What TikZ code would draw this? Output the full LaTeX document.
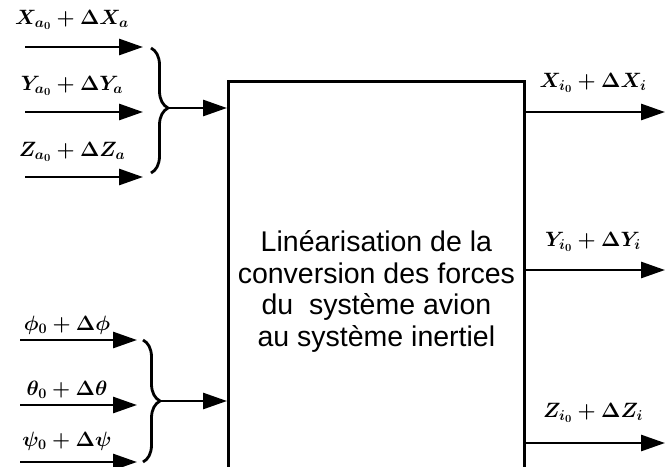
\documentclass[tikz,border=0pt]{standalone}
\usepackage{fontspec}
\setsansfont{Liberation Sans}
\usetikzlibrary{arrows.meta,decorations.pathreplacing}
\begin{document}
\begin{tikzpicture}[x=1pt,y=-1pt,
  line width=2.8pt,
  arr/.style={-{Triangle[length=24pt,width=16pt]}},
  lbl/.style={inner sep=0pt,font=\fontsize{21}{25}\selectfont\boldmath},
  brc/.style={decorate,decoration={brace,amplitude=17pt}},
  blk/.style={draw,line width=2.8pt,minimum width=296pt,minimum height=420pt,anchor=north west,
    align=center,font=\sffamily\fontsize{28.5}{31.5}\selectfont}]
\useasboundingbox (0,0) rectangle (666,466);
\clip (0,0) rectangle (666,466);
% block
\node[blk] (box) at (227,80) {Linéarisation de la\\conversion des forces\\du\ \ système avion\\au système inertiel};
% upper inputs
\coordinate (xa1) at (25,47);  \coordinate (xa2) at (143,47);
\coordinate (ya1) at (25,112); \coordinate (ya2) at (143,112);
\coordinate (za1) at (25,177); \coordinate (za2) at (143,177);
\draw[arr] (xa1) -- (xa2);
\draw[arr] (ya1) -- (ya2);
\draw[arr] (za1) -- (za2);
\node[lbl] (lxa) at (72,20) {$X_{a_0}+\Delta X_a$};
\node[lbl] (lya) at (72,86) {$Y_{a_0}+\Delta Y_a$};
\node[lbl] (lza) at (72,152) {$Z_{a_0}+\Delta Z_a$};
\draw[brc,decoration={aspect=0.48}] (151,48) -- (151,173);
\coordinate (b1) at (168,108);
\draw[arr] (b1) -- (box.west |- b1);
% lower inputs
\coordinate (ph1) at (20,340); \coordinate (ph2) at (137,340);
\coordinate (th1) at (20,405); \coordinate (th2) at (137,405);
\coordinate (ps1) at (20,462); \coordinate (ps2) at (137,462);
\draw[arr] (ph1) -- (ph2);
\draw[arr] (th1) -- (th2);
\draw[arr] (ps1) -- (ps2);
\node[lbl] (lph) at (67,325) {$\phi_0+\Delta\phi$};
\node[lbl] (lth) at (67,390) {$\theta_0+\Delta\theta$};
\node[lbl] (lps) at (67,441) {$\psi_0+\Delta\psi$};
\draw[brc] (143,340) -- (143,462);
\coordinate (b2) at (160,401);
\draw[arr] (b2) -- (box.west |- b2);
% outputs
\coordinate (xo) at (665,112);
\coordinate (yo) at (665,270);
\coordinate (zo) at (665,443);
\draw[arr] (box.east |- xo) -- (xo);
\draw[arr] (box.east |- yo) -- (yo);
\draw[arr] (box.east |- zo) -- (zo);
\node[lbl] (lxi) at (593,83) {$X_{i_0}+\Delta X_i$};
\node[lbl] (lyi) at (593,242) {$Y_{i_0}+\Delta Y_i$};
\node[lbl] (lzi) at (593,413) {$Z_{i_0}+\Delta Z_i$};
\end{tikzpicture}
\end{document}
